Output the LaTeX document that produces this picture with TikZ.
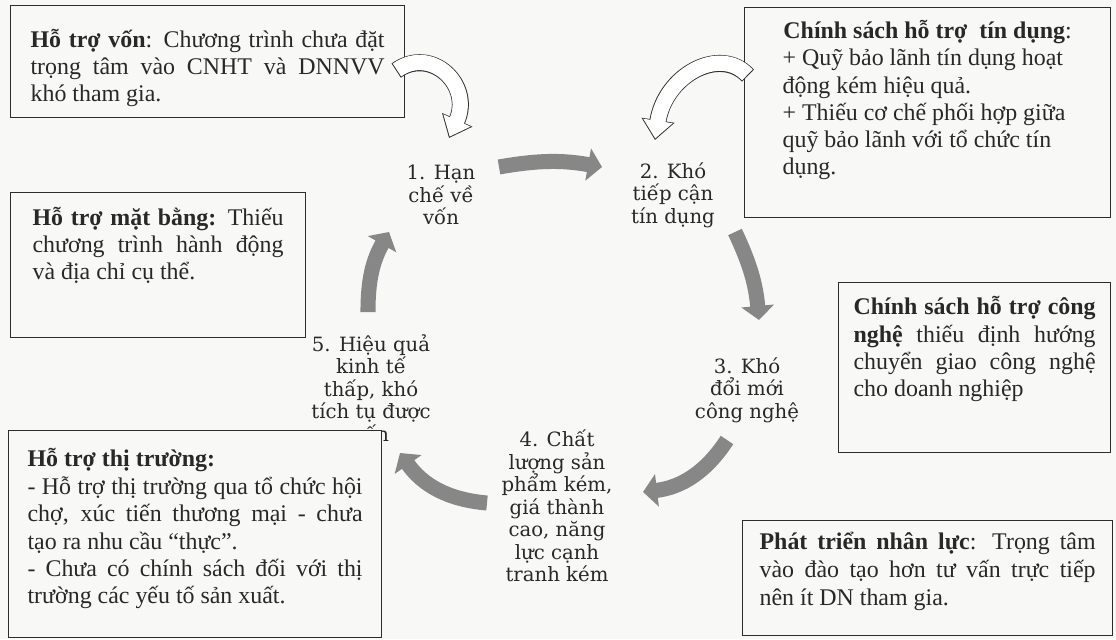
\documentclass[tikz,border=0pt]{standalone}
\usepackage{fontspec}
\setmainfont{Liberation Serif}
\newfontfamily\labelfont{DejaVu Serif}
\usetikzlibrary{arrows.meta,calc}
\newlength\unitpx
\setlength\unitpx{0.025cm}
\definecolor{paper}{RGB}{248,248,247}
\definecolor{ink}{RGB}{40,40,40}
\definecolor{boxline}{RGB}{45,45,45}
\definecolor{arrowgray}{RGB}{135,135,135}
% top aligned text block: width, height, text
\newcommand{\topbox}[3]{\parbox[c][#2\unitpx][t]{#1\unitpx}{#3}}
\tikzstyle{infobox}=[draw=boxline,fill=paper,line width=0.85pt,text=ink,font=\fontsize{17}{19}\selectfont,anchor=north west]
\tikzstyle{cyclelabel}=[align=center,text=ink,inner sep=0pt,font=\labelfont\fontsize{14}{16}\selectfont]
\tikzstyle{cyclearrow}=[draw=arrowgray,line width=10.7pt,-{Triangle[width=22.8pt,length=10pt]}]
\tikzstyle{hollowrim}=[draw=boxline,line width=12.1pt,-{Triangle[width=22.8pt,length=14.2pt]}]
\tikzstyle{hollowfill}=[draw=white,line width=10.9pt,shorten >=1.1pt,shorten <=0.7pt,-{Triangle[width=20.4pt,length=12.6pt]}]
\begin{document}
\begin{tikzpicture}[x=0.025cm,y=-0.025cm]

    \fill[paper] (0,0) rectangle (1116,639);
    \useasboundingbox (0,0) rectangle (1116,639);

    % the five steps of the cycle
    \foreach \pos/ \name/ \txt in {{(441,195)/l1/{1. Hạn\\chế về\\vốn}}, {(673,195)/l2/{2. Khó\\tiếp cận\\tín dụng}}, {(747,390)/l3/{3. Khó\\đổi mới\\công nghệ}}, {(557,506)/l4/{4. Chất\\lượng sản\\phẩm kém,\\giá thành\\cao, năng\\lực cạnh\\tranh kém}}, {(371,388)/l5/{5. Hiệu quả\\kinh tế\\thấp, khó\\tích tụ được\\vốn}}}
        \node[cyclelabel] (\name) at \pos {\txt};

    % policy boxes
    \node[infobox,inner xsep=20\unitpx,inner ysep=24\unitpx] (vonbox) at (10,5)
        {\topbox{354}{64}{\textbf{Hỗ trợ vốn}: Chương trình chưa đặt\linebreak trọng tâm vào CNHT và DNNVV\linebreak khó tham gia.}};
    \node[infobox,inner xsep=38\unitpx,inner ysep=13\unitpx,font=\fontsize{17}{19.3}\selectfont] (tindungbox) at (744,7)
        {\topbox{290}{184}{\makebox[\linewidth]{\textbf{Chính sách hỗ trợ\ \ tín dụng}:}\\+ Quỹ bảo lãnh tín dụng hoạt\\động kém hiệu quả.\\+ Thiếu cơ chế phối hợp giữa\\quỹ bảo lãnh với tổ chức tín\\dụng.}};
    \node[infobox,inner xsep=22\unitpx,inner ysep=15\unitpx] (matbangbox) at (10,192)
        {\topbox{251}{115}{\textbf{Hỗ trợ mặt bằng:} Thiếu\linebreak chương trình hành động\linebreak và địa chỉ cụ thể.}};
    \node[infobox,inner xsep=15\unitpx,inner ysep=14\unitpx,font=\fontsize{17}{19.4}\selectfont] (congnghebox) at (838,282)
        {\topbox{242}{142}{\textbf{Chính sách hỗ trợ công\linebreak nghệ} thiếu định hướng\linebreak chuyển giao công nghệ\linebreak cho doanh nghiệp}};
    \node[infobox,inner xsep=19\unitpx,inner ysep=18\unitpx,font=\fontsize{17}{19.5}\selectfont] (thitruongbox) at (8,430)
        {\topbox{335}{171}{\textbf{Hỗ trợ thị trường:}\\- Hỗ trợ thị trường qua tổ chức hội\linebreak chợ, xúc tiến thương mại - chưa\linebreak tạo ra nhu cầu “thực”.\\- Chưa có chính sách đối với thị\linebreak trường các yếu tố sản xuất.}};
    \node[infobox,inner xsep=17\unitpx,inner ysep=11\unitpx,font=\fontsize{17}{20}\selectfont] (nhanlucbox) at (742,520)
        {\topbox{336}{93}{\textbf{Phát triển nhân lực}: Trọng tâm\linebreak vào đào tạo hơn tư vấn trực tiếp\linebreak nên ít DN tham gia.}};

    % Connect steps with the grey arrows
    \foreach \source/ \sa/ \dest/ \da/ \bend in {l1/{58,-28}/l2/{-71,-28}/10, l2/{62,37}/l3/{12,-70}/10, l3/{-20,50}/l4/{86,-14}/25, l4/{-70,-3}/l5/{29,65}/25, l5/{-3,-76}/l1/{-52,37}/15}
        \draw[cyclearrow] ($(\source)+(\sa)$) to[bend left=\bend] ($(\dest)+(\da)$);

    % hollow arrows from the boxes
    \foreach \sty in {hollowrim,hollowfill}
    {
        \draw[\sty] ($(vonbox.east)+(-9,9)$) .. controls +(35,-25) and +(24,-53) .. ($(l1)+(8,-57)$);
        \draw[\sty] ($(tindungbox.west)+(4,-37)$) .. controls +(-28,-30) and +(10,-65) .. ($(l2)+(-18,-55)$);
    }

\end{tikzpicture}
\end{document}
